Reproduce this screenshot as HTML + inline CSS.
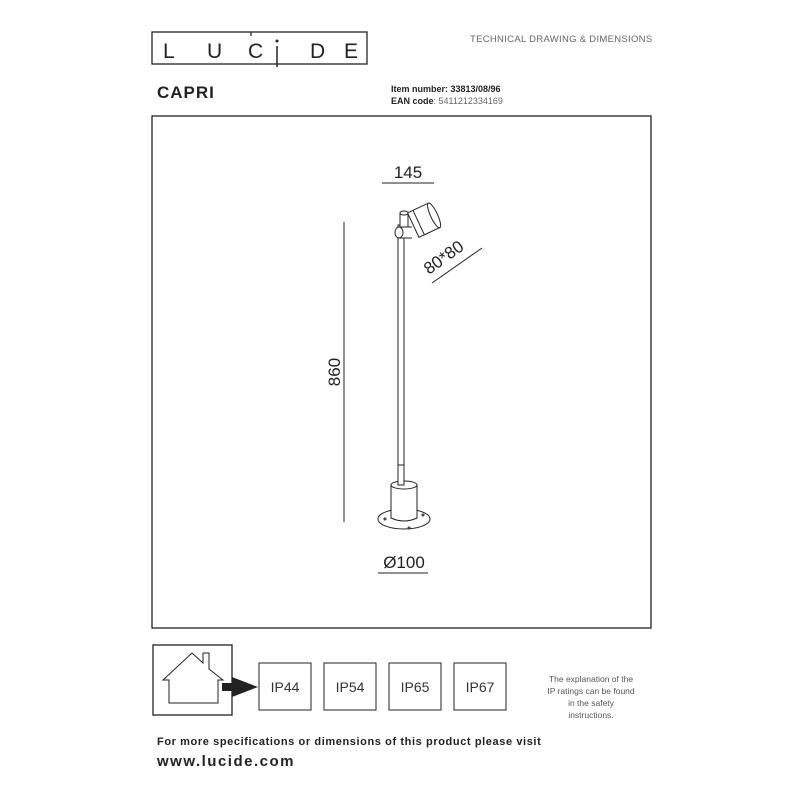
<!DOCTYPE html>
<html><head><meta charset="utf-8"><style>
html,body{margin:0;padding:0;background:#fff;}
svg{display:block;font-family:"Liberation Sans",sans-serif;}
</style></head><body>
<svg width="800" height="800" viewBox="0 0 800 800" xmlns="http://www.w3.org/2000/svg">
<rect width="800" height="800" fill="#fff"/>
<!-- logo -->
<rect x="152" y="32" width="215" height="32" fill="none" stroke="#222" stroke-width="1.3"/>
<g fill="#222" font-size="21" font-weight="300">
<text x="163" y="58">L</text><text x="207" y="58">U</text><text x="248" y="58">C</text>
<text x="310" y="58">D</text><text x="344" y="58">E</text></g>
<line x1="251" y1="32" x2="251" y2="36" stroke="#222" stroke-width="1.3"/>
<line x1="277" y1="46" x2="277" y2="67" stroke="#222" stroke-width="1.5"/>
<circle cx="277" cy="41" r="1.5" fill="#222"/>
<text x="470" y="42" font-size="9.5" fill="#666" letter-spacing="0.3">TECHNICAL DRAWING &amp; DIMENSIONS</text>
<text x="157" y="98" font-size="17" font-weight="bold" fill="#222" letter-spacing="1">CAPRI</text>
<text x="391" y="92" font-size="9" font-weight="bold" fill="#222">Item number: 33813/08/96</text>
<text x="391" y="104" font-size="9" fill="#222"><tspan font-weight="bold">EAN code</tspan><tspan fill="#666">: 5411212334169</tspan></text>
<!-- frame -->
<rect x="152" y="116" width="499" height="512" fill="none" stroke="#222" stroke-width="1.3"/>
<!-- dims -->
<text x="408" y="178" font-size="17" text-anchor="middle" fill="#222">145</text>
<line x1="382" y1="183" x2="434" y2="183" stroke="#222" stroke-width="1"/>
<line x1="344" y1="222" x2="344" y2="522" stroke="#222" stroke-width="1"/>
<text transform="translate(340,372) rotate(-90)" font-size="17" text-anchor="middle" fill="#222">860</text>
<text transform="translate(447,262) rotate(-36)" font-size="17" text-anchor="middle" fill="#222">80*80</text>
<line x1="432" y1="283" x2="482" y2="248" stroke="#222" stroke-width="1"/>
<text x="404" y="568" font-size="17" text-anchor="middle" fill="#222">Ø100</text>
<line x1="378" y1="573" x2="428" y2="573" stroke="#222" stroke-width="1"/>
<!-- lamp -->
<g fill="#fff" stroke="#222" stroke-width="1">
<rect x="398" y="225" width="6" height="260"/>
<g transform="rotate(-25 423 220)">
<rect x="412" y="207" width="23" height="27"/>
<line x1="418" y1="207" x2="418" y2="234"/>
<ellipse cx="435" cy="220.5" rx="3.5" ry="13.5"/>
</g>
<path d="M400 213 L400 232 L408 232 L408 213 Z"/>
<ellipse cx="404" cy="213" rx="4" ry="2"/>
<rect x="399" y="227" width="13" height="11" stroke="none"/>
<line x1="399" y1="227" x2="412" y2="227"/><line x1="399" y1="238" x2="412" y2="238"/>
<ellipse cx="399" cy="232.5" rx="4" ry="5.5"/>
<ellipse cx="404" cy="519" rx="26" ry="10"/>
<path d="M391 485 L391 518 Q404 524 417 518 L417 485 Z"/>
<ellipse cx="404" cy="485" rx="13" ry="4"/>
<circle cx="385" cy="519" r="1"/><circle cx="423" cy="515" r="1"/><circle cx="409" cy="528" r="1"/>
</g>
<rect x="398" y="465" width="6" height="20" fill="#fff" stroke="#222"/>
<!-- bottom -->
<rect x="153" y="645" width="79" height="70" fill="none" stroke="#222" stroke-width="1.3"/>
<path d="M169 703 L169 680 L163 680 L192 653 L203 663 L203 653 L209 653 L209 669 L223 680 L218 680 L218 703 Z" fill="none" stroke="#222" stroke-width="1"/>
<path d="M222 683 L232 683 L232 677 L258 687 L232 697 L232 691 L222 691 Z" fill="#222"/>
<g fill="none" stroke="#222" stroke-width="1">
<rect x="259" y="663" width="52" height="47"/><rect x="324" y="663" width="52" height="47"/>
<rect x="389" y="663" width="52" height="47"/><rect x="454" y="663" width="52" height="47"/></g>
<g font-size="14" fill="#333" text-anchor="middle">
<text x="285" y="692">IP44</text><text x="350" y="692">IP54</text><text x="415" y="692">IP65</text><text x="480" y="692">IP67</text></g>
<g font-size="8.5" fill="#555" text-anchor="middle">
<text x="591" y="682">The explanation of the</text><text x="591" y="694">IP ratings can be found</text>
<text x="591" y="706">in the safety</text><text x="591" y="718">instructions.</text></g>
<text x="157" y="745" font-size="11" font-weight="bold" fill="#222" letter-spacing="0.6">For more specifications or dimensions of this product please visit</text>
<text x="157" y="766" font-size="15" font-weight="bold" fill="#222" letter-spacing="1.5">www.lucide.com</text>
</svg>
</body></html>
